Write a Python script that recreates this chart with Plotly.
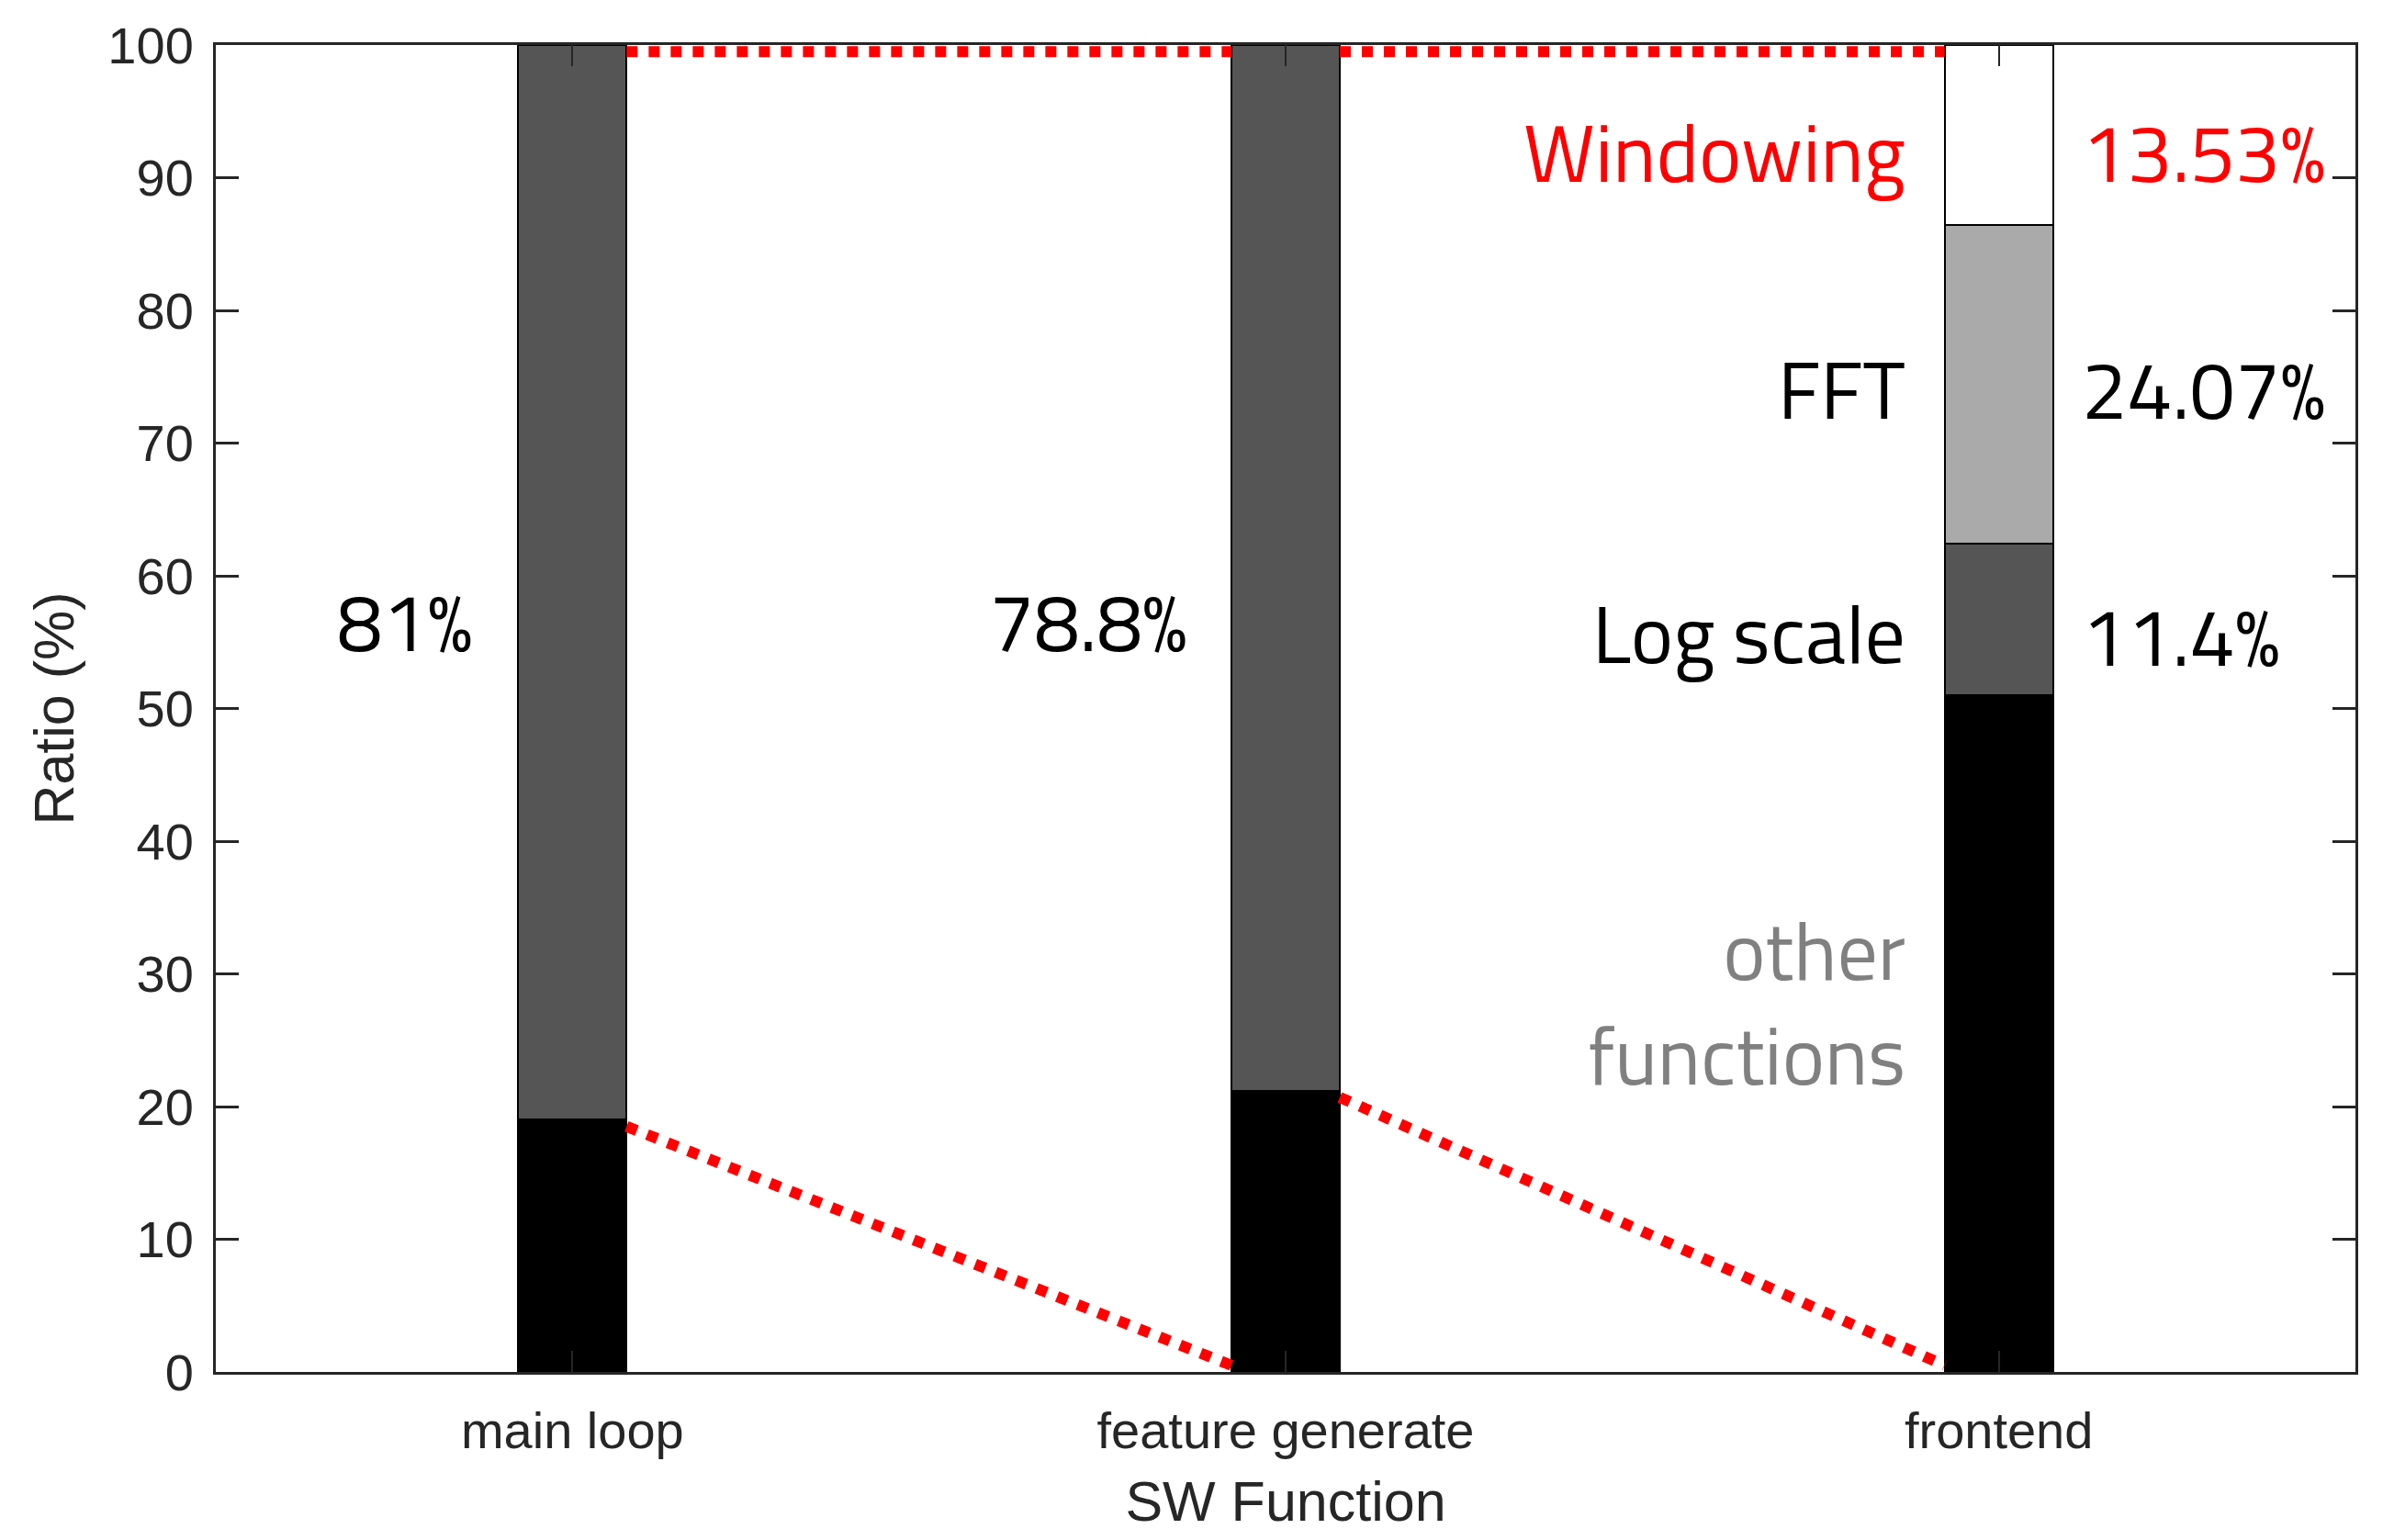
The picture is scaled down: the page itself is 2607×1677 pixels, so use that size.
import plotly.graph_objects as go

# categories on the x axis
functions = ["main loop", "feature generate", "frontend"]
x_pos = [1, 2, 3]

# stacked shares (%) per SW function, bottom to top
other_share = [19.0, 21.2, 51.0]      # black: everything not broken out
called_share = [81.0, 78.8, 11.4]     # dark gray: callee (next bar) / Log scale
fft_share = [None, None, 24.07]       # light gray
window_share = [None, None, 13.53]    # white

y_ticks = [0, 10, 20, 30, 40, 50, 60, 70, 80, 90, 100]

BAR_W = 0.152
INSET = 0.5
AXIS_COLOR = "#262626"
TICK_FONT = dict(family="Liberation Sans, Arial, sans-serif", size=56, color=AXIS_COLOR)
TITLE_FONT = dict(family="Liberation Sans, Arial, sans-serif", size=61, color=AXIS_COLOR)
NOTE_FONT = "Titillium Web, Lato, sans-serif"

fig = go.Figure()

segments = [
    (other_share, "#000000"),
    (called_share, "#555555"),
    (fft_share, "#aaaaaa"),
    (window_share, "#ffffff"),
]
for values, color in segments:
    fig.add_trace(
        go.Bar(
            x=x_pos,
            y=values,
            width=BAR_W,
            marker=dict(color=color, line=dict(color="#000000", width=2)),
            showlegend=False,
        )
    )

# red dotted zoom-in lines: the dark gray share of one bar expands into the next bar
half = BAR_W / 2
for i in range(len(x_pos) - 1):
    top = other_share[i] + called_share[i]
    # top edge
    fig.add_trace(
        go.Scatter(
            x=[x_pos[i] + half, x_pos[i + 1] - half],
            y=[top - INSET, top - INSET],
            mode="lines",
            line=dict(color="#ff0000", width=12, dash="dot"),
            showlegend=False,
        )
    )
    # bottom edge
    fig.add_trace(
        go.Scatter(
            x=[x_pos[i] + half, x_pos[i + 1] - half],
            y=[other_share[i] - INSET, INSET],
            mode="lines",
            line=dict(color="#ff0000", width=12, dash="dot"),
            showlegend=False,
        )
    )


def pct(v):
    return f"{v:g}%"


notes = [
    # text, x, y, xanchor, color
    (pct(called_share[0]), 0.765, 56.6, "center", "#000000"),
    (pct(called_share[1]), 1.723, 56.6, "center", "#000000"),
    ("Windowing", 2.872, 92.0, "right", "#ff0000"),
    ("FFT", 2.872, 74.1, "right", "#000000"),
    ("Log scale", 2.872, 55.7, "right", "#000000"),
    ("other<br>functions", 2.872, 27.9, "right", "#808080"),
    (pct(window_share[2]), 3.114, 92.0, "left", "#ff0000"),
    (pct(fft_share[2]), 3.114, 74.1, "left", "#000000"),
    (pct(called_share[2]), 3.114, 55.5, "left", "#000000"),
]
for text, x, y, anchor, color in notes:
    fig.add_annotation(
        x=x, y=y, text=text, showarrow=False,
        xanchor=anchor, yanchor="middle", align="right" if anchor == "right" else "left",
        font=dict(family=NOTE_FONT, size=88, color=color),
    )

fig.update_layout(
    barmode="stack",
    width=2591,
    height=1661,
    margin=dict(l=227, r=34, t=41, b=175, autoexpand=False),
    paper_bgcolor="white",
    plot_bgcolor="white",
    bargap=0,
)

fig.update_xaxes(
    range=[0.5, 3.5],
    tickvals=x_pos,
    ticktext=functions,
    ticks="inside",
    ticklen=23,
    tickwidth=2,
    tickcolor=AXIS_COLOR,
    showline=True,
    linewidth=3,
    linecolor=AXIS_COLOR,
    mirror="ticks",
    showgrid=False,
    zeroline=False,
    automargin=False,
    tickfont=TICK_FONT,
    ticklabelstandoff=13,
    title=dict(text="SW Function", font=TITLE_FONT, standoff=46),
)
fig.update_yaxes(
    range=[0, 100],
    tickvals=y_ticks,
    ticks="inside",
    ticklen=25,
    tickwidth=3,
    tickcolor=AXIS_COLOR,
    showline=True,
    linewidth=3,
    linecolor=AXIS_COLOR,
    mirror="ticks",
    showgrid=False,
    zeroline=False,
    automargin=False,
    tickfont=TICK_FONT,
    ticklabelstandoff=10,
    title=dict(text="Ratio (%)", font=TITLE_FONT, standoff=18),
)

fig.write_html("out.html")
